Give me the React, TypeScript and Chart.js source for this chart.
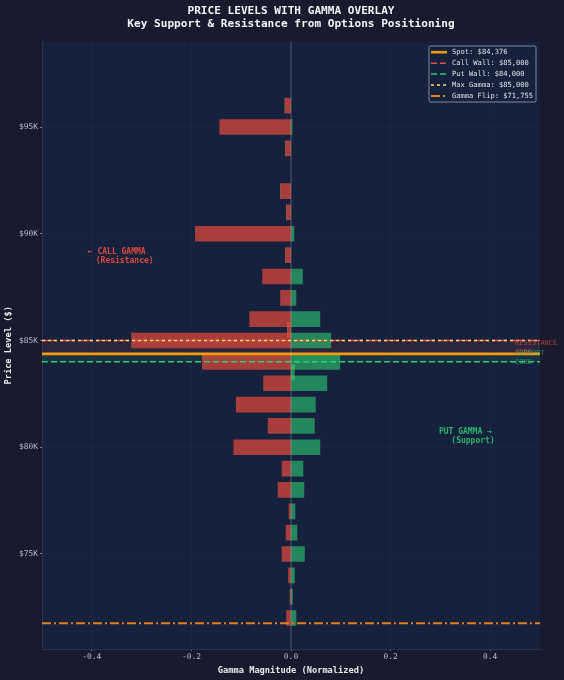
import { useRef, useEffect } from "react";
import { Chart, registerables } from "chart.js";

Chart.register(...registerables);

const MONO = "'DejaVu Sans Mono', monospace";

const strikes = [96000, 95000, 94000, 92000, 91000, 90000, 89000, 88000, 87000, 86000, 85500, 85000, 84000, 83500, 83000, 82000, 81000, 80000, 79000, 78000, 77000, 76000, 75000, 74000, 73000, 72000];
const callGamma = [-0.012, -0.143, -0.011, -0.021, -0.009, -0.192, -0.011, -0.057, -0.021, -0.083, -0.007, -0.32, -0.178, 0, -0.055, -0.11, -0.046, -0.115, -0.018, -0.026, -0.004, -0.01, -0.018, -0.005, -0.002, -0.009];
const putGamma = [0, 0.002, 0, 0, 0, 0.006, 0, 0.023, 0.01, 0.058, 0, 0.08, 0.098, 0.007, 0.072, 0.049, 0.047, 0.058, 0.024, 0.026, 0.008, 0.012, 0.027, 0.007, 0.003, 0.01];

const yTicks = [75000, 80000, 85000, 90000, 95000];
const xTicks = [-0.4, -0.2, 0, 0.2, 0.4];

const SPOT = 84376;
const CALL_WALL = 85000;
const PUT_WALL = 84000;
const MAX_GAMMA = 85000;
const GAMMA_FLIP = 71755;

const levels = [
  { label: "Spot: $84,376", price: SPOT, color: "#f39c12", width: 2.6, dash: [] as number[] },
  { label: "Call Wall: $85,000", price: CALL_WALL, color: "#e74c3c", width: 1.5, dash: [6, 3] },
  { label: "Put Wall: $84,000", price: PUT_WALL, color: "#2ecc71", width: 1.5, dash: [6, 3] },
  { label: "Max Gamma: $85,000", price: MAX_GAMMA, color: "#f7dc6f", width: 1.5, dash: [3, 3] },
  { label: "Gamma Flip: $71,755", price: GAMMA_FLIP, color: "#e67e22", width: 2, dash: [9, 3, 2, 3] },
];

const notes = [
  { text: "← CALL GAMMA", x: -0.408, y: 89145, color: "rgba(231,76,60,0.95)", size: 8, bold: true },
  { text: "(Resistance)", x: -0.392, y: 88720, color: "rgba(231,76,60,0.95)", size: 8, bold: true },
  { text: "PUT GAMMA →", x: 0.297, y: 80700, color: "rgba(46,204,113,0.85)", size: 8, bold: true },
  { text: "(Support)", x: 0.322, y: 80280, color: "rgba(46,204,113,0.85)", size: 8, bold: true },
  { text: "RESISTANCE", x: 0.45, y: 84880, color: "rgba(231,76,60,0.7)", size: 7, bold: false },
  { text: "ZONE", x: 0.45, y: 84460, color: "rgba(231,76,60,0.7)", size: 7, bold: false },
  { text: "SUPPORT", x: 0.45, y: 84420, color: "rgba(46,204,113,0.6)", size: 7, bold: false },
  { text: "ZONE", x: 0.45, y: 84000, color: "rgba(46,204,113,0.6)", size: 7, bold: false },
];

// plot background and the two zones between the walls and spot
const backdrop = {
  id: "backdrop",
  beforeDatasetsDraw(chart: any) {
    const { ctx, chartArea: a, scales } = chart;
    ctx.save();
    ctx.fillStyle = "rgba(231,76,60,0.1)";
    const callTop = scales.y.getPixelForValue(CALL_WALL);
    const spotY = scales.y.getPixelForValue(SPOT);
    const putY = scales.y.getPixelForValue(PUT_WALL);
    ctx.fillRect(a.left, callTop, a.width, spotY - callTop);
    ctx.fillStyle = "rgba(46,204,113,0.1)";
    ctx.fillRect(a.left, spotY, a.width, putY - spotY);
    ctx.restore();
  },
};

const overlay = {
  id: "overlay",
  afterDraw(chart: any) {
    const { ctx, scales } = chart;
    ctx.save();

    // zero line
    const zero = scales.x.getPixelForValue(0);
    ctx.strokeStyle = "rgba(255,255,255,0.3)";
    ctx.lineWidth = 0.8;
    ctx.beginPath();
    ctx.moveTo(zero, chart.chartArea.top);
    ctx.lineTo(zero, chart.chartArea.bottom);
    ctx.stroke();

    ctx.textBaseline = "middle";
    ctx.textAlign = "left";
    for (const n of notes) {
      ctx.font = `${n.bold ? "bold " : ""}${n.size}px ${MONO}`;
      ctx.fillStyle = n.color;
      ctx.fillText(n.text, scales.x.getPixelForValue(n.x), scales.y.getPixelForValue(n.y));
    }

    // legend box, top right of the plot
    const boxX = 429;
    const boxY = 46;
    ctx.fillStyle = "rgba(22,33,62,0.85)";
    ctx.strokeStyle = "rgba(200,205,215,0.75)";
    ctx.lineWidth = 0.8;
    ctx.beginPath();
    ctx.roundRect(boxX, boxY, 107, 56, 1.5);
    ctx.fill();
    ctx.stroke();
    ctx.font = `7.1px ${MONO}`;
    levels.forEach((l, i) => {
      const rowY = boxY + 6.2 + i * 10.95;
      ctx.strokeStyle = l.color;
      ctx.lineWidth = l.width;
      ctx.setLineDash(l.dash);
      ctx.beginPath();
      ctx.moveTo(boxX + 2, rowY);
      ctx.lineTo(boxX + 18, rowY);
      ctx.stroke();
      ctx.setLineDash([]);
      ctx.fillStyle = "#e0e0e0";
      ctx.fillText(l.label, boxX + 23, rowY + 0.3);
    });
    ctx.restore();
  },
};

function App() {
  const chartRef = useRef<HTMLCanvasElement>(null);

  useEffect(() => {
    if (!chartRef.current) return;

    const chart = new Chart(chartRef.current, {
      type: "bar",
      data: {
        datasets: [
          {
            type: "bar",
            indexAxis: "y",
            label: "Call Gamma",
            data: strikes.map((s, i) => ({ x: callGamma[i], y: s })),
            backgroundColor: "rgba(231,76,60,0.7)",
            barThickness: 15,
            order: 10,
          },
          {
            type: "bar",
            indexAxis: "y",
            label: "Put Gamma",
            data: strikes.map((s, i) => ({ x: putGamma[i], y: s })),
            backgroundColor: "rgba(46,204,113,0.6)",
            barThickness: 15,
            order: 10,
          },
          ...levels.map((l, i) => ({
            type: "scatter",
            label: l.label,
            data: [{ x: -0.5, y: l.price }, { x: 0.5, y: l.price }],
            showLine: true,
            borderColor: l.color,
            borderWidth: l.width,
            borderDash: l.dash,
            pointRadius: 0,
            order: 5 - i,
          })),
        ] as any,
      },
      options: {
        animation: false,
        responsive: false,
        indexAxis: "y",
        layout: { padding: { left: 0, right: 24, top: 0, bottom: 4 } },
        plugins: {
          legend: { display: false },
          tooltip: { enabled: false },
          title: {
            display: true,
            fullSize: false,
            text: ["PRICE LEVELS WITH GAMMA OVERLAY", "Key Support & Resistance from Options Positioning"],
            color: "#f2f2f2",
            font: { family: MONO, size: 11.1, weight: "bold", lineHeight: 1.2 },
            padding: { top: 4, bottom: 11 },
          },
        },
        scales: {
          x: {
            type: "linear",
            stacked: true,
            min: -0.5,
            max: 0.5,
            afterBuildTicks: (scale: any) => {
              scale.ticks = xTicks.map((value) => ({ value }));
            },
            afterFit: (scale: any) => {
              scale.height = 27;
            },
            ticks: {
              color: "#b8bcc4",
              font: { family: MONO, size: 7.9 },
              padding: 1,
              maxRotation: 0,
              autoSkip: false,
              callback: (v: any) => Number(v).toFixed(1),
            },
            grid: {
              color: "rgba(255,255,255,0.03)",
              lineWidth: 0.8,
              tickColor: "#8a8f9c",
              tickLength: 2,
            },
            border: { color: "#2d3a55", width: 0.8 },
            title: {
              display: true,
              text: "Gamma Magnitude (Normalized)",
              color: "#e8e8e8",
              font: { family: MONO, size: 8.7, weight: "bold" },
              padding: { top: 1, bottom: 0 },
            },
          },
          y: {
            type: "linear",
            stacked: true,
            offset: false,
            min: 70550,
            max: 99000,
            afterBuildTicks: (scale: any) => {
              scale.ticks = yTicks.map((value) => ({ value }));
            },
            afterFit: (scale: any) => {
              scale.width = 42;
            },
            ticks: {
              color: "#b8bcc4",
              font: { family: MONO, size: 7.9 },
              padding: 2,
              autoSkip: false,
              callback: (v: any) => `$${Number(v) / 1000}K`,
            },
            grid: {
              offset: false,
              color: "rgba(255,255,255,0.03)",
              lineWidth: 0.8,
              tickColor: "#8a8f9c",
              tickLength: 2,
            },
            border: { color: "#2d3a55", width: 0.8 },
            title: {
              display: true,
              text: "Price Level ($)",
              color: "#e8e8e8",
              font: { family: MONO, size: 8.7, weight: "bold" },
              padding: { top: 4, bottom: 0 },
            },
          },
        },
      },
      plugins: [
        {
          id: "plotFill",
          beforeDraw(c: any) {
            const { ctx, chartArea: a } = c;
            ctx.save();
            ctx.fillStyle = "#16213e";
            ctx.fillRect(a.left, a.top, a.width, a.height);
            ctx.restore();
          },
        },
        backdrop,
        overlay,
      ],
    } as any);

    return () => chart.destroy();
  }, []);

  return (
    <div style={{ position: "fixed", inset: 0, background: "#1a1a2e" }}>
      <canvas ref={chartRef} width={564} height={680} style={{ display: "block" }}></canvas>
    </div>
  );
}

export default App;
